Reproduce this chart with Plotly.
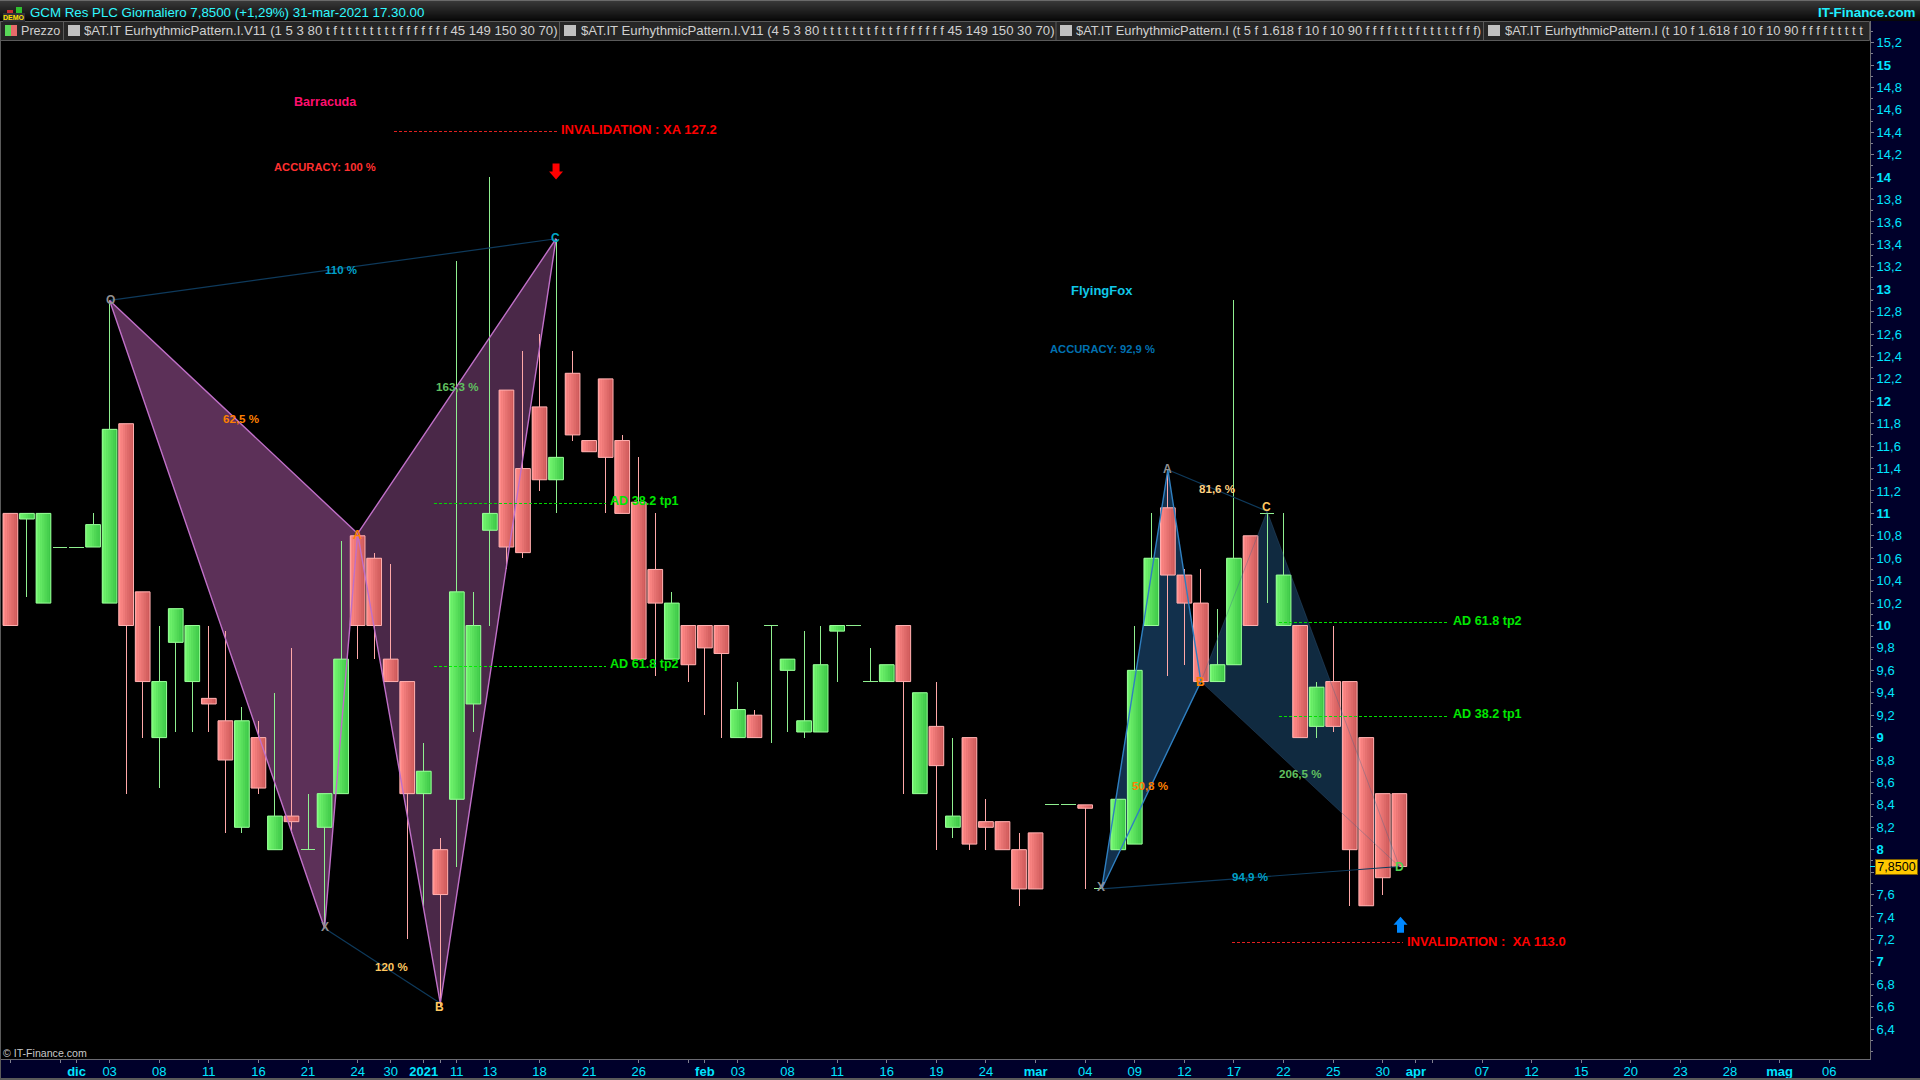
import plotly.graph_objects as go

# ---------- data ----------
opens = [11,10.95,10.2,10.7,10.7,10.7,10.2,11.8,10.3,9,9.85,9.5,9.35,9.15,8.2,9,8,8.3,8,8.2,8.5,10.8,10.6,9.7,9.5,8.5,8,8.45,9.3,10.85,
         12.1,11.4,11.95,11.3,12.25,11.65,12.2,11.65,11.1,10.5,9.7,10,10,10,9,9.2,10,9.6,9.05,9.05,9.95,10,9.5,9.5,10,8.5,9.1,8.2,9,8.25,
         8.25,8,8.15,8.4,8.4,8.4,7.65,8,8.05,10,11.05,10.45,10.2,9.5,9.65,10.8,11,10,10,9.1,9.5,9.5,9,8.5,8.5]
highs = [11,11,11,10.7,10.7,11,12.9,11.8,10.3,10,10.15,10,10,9.95,9.27,9.15,9.4,9.8,8.5,8.5,10.75,10.8,10.65,10.55,9.5,8.95,8.1,13.25,10.3,14,
         12.1,12.45,12.6,13.45,12.45,11.65,12.2,11.7,11.5,11,10.3,10,10,10,9.5,9.25,10,9.7,9.95,10,10,10,9.8,9.65,10,9.4,9.5,9,9,8.45,
         8.25,8.15,8.15,8.4,8.4,8.4,7.65,8.45,10,11,11.4,10.5,10.5,10.15,12.9,10.8,11,11,10,9.5,10,9.5,9,8.5,8.5]
lows = [10,10.25,10.2,10.7,10.7,10.7,10.2,8.5,9,8.55,9.05,9.05,9.05,8.15,8.15,8.5,8,8.15,8,7.3,8.5,9.7,9.7,9.5,7.2,7.5,6.6,7.85,9.05,10,
        10.5,10.6,11.2,11,11.65,11.55,11,11,9.7,9.55,9.7,9.5,9.2,9,9,9,8.95,9.05,9,9.05,9.5,10,9.5,9.5,8.5,8.5,8,8.1,8,8,
        8,7.5,7.65,8.4,8.4,7.65,7.65,8,8.05,10,9.55,9.65,9.5,9.5,9.65,10,10.2,10,9,9,9.05,7.5,7.5,7.6,7.85]
closes = [10,11,11,10.7,10.7,10.9,11.75,10,9.5,9.5,10.15,10,9.3,8.8,9.15,8.55,8.3,8.25,8,8.5,9.7,10,10,9.5,8.5,8.7,7.6,10.3,10,11,
          10.7,10.65,11.3,11.5,11.7,11.55,11.5,11,9.7,10.2,10.2,9.65,9.8,9.75,9.25,9,10,9.7,9.15,9.65,10,10,9.5,9.65,9.5,9.4,8.75,8.3,8.05,8.2,
          8,7.65,7.65,8.4,8.4,8.37,7.65,8.45,9.6,10.6,10.45,10.2,9.5,9.65,10.6,10,11,10.45,9,9.45,9.1,8,7.5,7.75,7.85]

x_tick_pos = [0,3,4,6,9,12,15,18,21,23,25,26,27,29,32,35,38,41,42,44,47,50,53,56,59,62,65,68,71,74,77,80,83,85,86,89,92,95,98,101,104,107,110]
x_tick_txt = ["","","<b>dic</b>","03","08","11","16","21","24","30","<b>2021</b>","","11","13","18","21","26","","<b>feb</b>","03","08","11","16","19","24","<b>mar</b>","04","09","12","17","22","25","30","<b>apr</b>","","07","12","15","20","23","28","<b>mag</b>","06"]
y_ticks = [15.2,15,14.8,14.6,14.4,14.2,14,13.8,13.6,13.4,13.2,13,12.8,12.6,12.4,12.2,12,11.8,11.6,11.4,11.2,11,10.8,10.6,10.4,10.2,10,9.8,9.6,9.4,9.2,9,8.8,8.6,8.4,8.2,8,7.8,7.6,7.4,7.2,7,6.8,6.6,6.4]
y_minor = [15.3,15.1,14.9,14.7,14.5,14.3,14.1,13.9,13.7,13.5,13.3,13.1,12.9,12.7,12.5,12.3,12.1,11.9,11.7,11.5,11.3,11.1,10.9,10.7,10.5,10.3,10.1,9.9,9.7,9.5,9.3,9.1,8.9,8.7,8.5,8.3,8.1,7.9,7.7,7.5,7.3,7.1,6.9,6.7,6.5,6.3,6.2]

barracuda_x = {"O":6,"X":19,"A":21,"B":26,"C":33}
barracuda_y = {"O":12.9,"X":7.3,"A":10.82,"B":6.63,"C":13.45}
fox_x = {"X":66,"A":70,"B":72,"C":76,"D":84}
fox_y = {"X":7.65,"A":11.39,"B":9.5,"C":11.02,"D":7.85}

# horizontal level lines: (x0, x1, price, colour)
levels = [(23.2,33.1,14.41,"#e02020"),(25.6,36,11.09,"#00d800"),(25.6,36,9.636,"#00f000"),
          (76.7,87,10.03,"#00e000"),(76.7,87,9.19,"#00e000"),(73.9,84.2,7.168,"#e02020")]

# ---------- geometry of the picture ----------
X0, DX = 10.4, 16.535
P_W, P_T, P_B = 1870, 21, 1059
def xd(px): return (px - X0) / DX
def yd(py): return 15 - (py - 65) / 112.1
def xp(px): return px / P_W
def yp(py): return (P_B - py) / (P_B - P_T)

n = len(opens)
idx = list(range(n))
FONT = "Liberation Sans"
fig = go.Figure()

body = [i for i in idx if opens[i] != closes[i]]
base = [min(opens[i], closes[i]) for i in body]
hgt = [abs(opens[i]-closes[i]) for i in body]
up = [closes[i] >= opens[i] for i in body]

W = 0.89
STRIPS = 7
def lerp(a, b, t):
    return "rgb(%d,%d,%d)" % tuple(round(a[k]+(b[k]-a[k])*t) for k in range(3))
G_L, G_R = (116,246,112), (62,200,72)
R_L, R_R = (255,138,136), (206,90,90)
fig.add_trace(go.Bar(x=body, y=hgt, base=base, width=W, offset=-W/2,
                     marker=dict(color=[lerp(G_L,G_R,.5) if u else lerp(R_L,R_R,.5) for u in up], line=dict(width=0)), hoverinfo="skip"))
for k in range(STRIPS):
    t = k/(STRIPS-1)
    fig.add_trace(go.Bar(x=body, y=hgt, base=base, width=W/STRIPS, offset=-W/2+k*W/STRIPS,
                         marker=dict(color=[lerp(G_L,G_R,t) if u else lerp(R_L,R_R,t) for u in up], line=dict(width=0)), hoverinfo="skip"))
fig.add_trace(go.Bar(x=body, y=hgt, base=base, width=W, offset=-W/2,
                     marker=dict(color="rgba(0,0,0,0)", line=dict(width=1, color=["#98ff98" if u else "#ffb0b0" for u in up])), hoverinfo="skip"))

# wicks
def wick_series(is_up):
    xs, ys = [], []
    for i in idx:
        if (closes[i] >= opens[i]) != is_up:
            continue
        top, bot = max(opens[i], closes[i]), min(opens[i], closes[i])
        if highs[i] > top:
            xs += [i, i, None]; ys += [top, highs[i], None]
        if lows[i] < bot:
            xs += [i, i, None]; ys += [bot, lows[i], None]
        if opens[i] == closes[i]:
            xs += [i-W/2, i+W/2, None]; ys += [opens[i], opens[i], None]
    return xs, ys
for is_up, col in ((True, "#90f090"), (False, "#ffa8a8")):
    xs, ys = wick_series(is_up)
    fig.add_trace(go.Scatter(x=xs, y=ys, mode="lines", line=dict(color=col, width=1), hoverinfo="skip"))

# pattern edges
def edge(pts, px, py, col, w):
    fig.add_trace(go.Scatter(x=[px[p] for p in pts], y=[py[p] for p in pts], mode="lines",
                             line=dict(color=col, width=w), hoverinfo="skip"))
edge(["O","C"], barracuda_x, barracuda_y, "#0e3a5c", 1.2)
edge(["X","B"], barracuda_x, barracuda_y, "#0e3a5c", 1.2)
edge(["A","C"], fox_x, fox_y, "#0e3a5c", 1.2)
edge(["X","D"], fox_x, fox_y, "#0e3a5c", 1.2)
edge(["O","X","A","O"], barracuda_x, barracuda_y, "#c070c8", 1.4)
edge(["A","B","C","A"], barracuda_x, barracuda_y, "#c070c8", 1.4)
edge(["X","A","B","X"], fox_x, fox_y, "#2f7fc0", 1.4)
edge(["B","C","D","B"], fox_x, fox_y, "rgba(60,100,140,0.35)", 1)

for x0, x1, p, col in levels:
    fig.add_trace(go.Scatter(x=[x0, x1], y=[p, p], mode="lines",
                             line=dict(color=col, width=1, dash="3px,2px"), hoverinfo="skip"))

# ---------- shapes ----------
shapes = []
def tri(pts, px, py, fill):
    path = "M " + " L ".join(f"{px[p]} {py[p]}" for p in pts) + " Z"
    shapes.append(dict(type="path", path=path, fillcolor=fill, line=dict(width=0), layer="below"))
tri(["O","X","A"], barracuda_x, barracuda_y, "#5c3058")
tri(["A","B","C"], barracuda_x, barracuda_y, "#4a2848")
tri(["X","A","B"], fox_x, fox_y, "#12304c")
tri(["B","C","D"], fox_x, fox_y, "#102a40")

def paper_rect(x0, y0, x1, y1, fill, line=None):
    shapes.append(dict(type="rect", xref="paper", yref="paper", x0=xp(x0), x1=xp(x1), y0=yp(y1), y1=yp(y0),
                       fillcolor=fill, line=dict(width=1 if line else 0, color=line or fill), layer="above"))

# title bar gradient
for r in range(21):
    v = round(58 - 50*min(r, 20)/20)
    paper_rect(0, r, 1920, r+1, f"rgb({v},{v},{v})")
paper_rect(0, 0, 1920, 1, "#6a6a6a")
# legend bar
paper_rect(0, 21.5, 1869.5, 40.5, "#262626", "#5a5a5a")
for sx in (63, 559, 1055.5, 1483):
    paper_rect(sx, 22, sx+1, 40, "#5a5a5a")
paper_rect(5, 25, 11, 36, "#58d858")
paper_rect(11, 25, 17, 36, "#e86a6a")
for sx in (68, 564, 1060, 1488):
    paper_rect(sx, 25, sx+12, 36, "#c0c0c0")
# left and bottom chrome
paper_rect(0, 21, 1, 1079, "#5a5a5a")
paper_rect(0, 1078, 1920, 1080, "#5a5a5a")
# DEMO icon
paper_rect(3, 13, 25, 22, "#303038")
paper_rect(16, 7, 22, 13, "#30c030")
paper_rect(7, 10, 13, 13, "#c83030")
# last-price tick
paper_rect(1870, 866, 1876, 867, "#00e5ff")

def arrow(x, y, col):
    shapes.append(dict(type="path", xref="x", yref="y", xsizemode="pixel", ysizemode="pixel", xanchor=x, yanchor=y,
                       path="M -3.5 8 L 3.5 8 L 3.5 0 L 7 0 L 0 -8 L -7 0 L -3.5 0 Z" if col == "#ff0000"
                       else "M -3.5 -8 L 3.5 -8 L 3.5 0 L 7 0 L 0 8 L -7 0 L -3.5 0 Z",
                       fillcolor=col, line=dict(width=0)))
arrow(33, 14.05, "#ff0000")
arrow(84.07, 7.33, "#0088ff")

# ---------- text ----------
ann = []
def text(x, y, s, col, size=12, anchor="center", bold=True, **kw):
    ann.append(dict(x=xp(x), y=yp(y), xref="paper", yref="paper", text=f"<b>{s}</b>" if bold else s,
                    showarrow=False, xanchor=anchor, yanchor="middle", borderpad=0,
                    font=dict(family=FONT, size=size, color=col), **kw))

text(29, 12, "GCM Res PLC Giornaliero 7,8500 (+1,29%) 31-mar-2021 17.30.00", "#30f8ff", 13.3, "left", False)
text(1917, 12.5, "IT-Finance.com", "#20f0ff", 13.4, "right")
text(14, 17.5, "DEMO", "#ffe000", 7, "center")
text(20, 30.5, "Prezzo", "#d0d0d0", 12.6, "left", False)
text(83, 30.5, "$AT.IT EurhythmicPattern.I.V11 (1 5 3 80 t f t t t t t t t t f f f f f f f 45 149 150 30 70)", "#d0d0d0", 13.2, "left", False)
text(579.6, 30.5, "$AT.IT EurhythmicPattern.I.V11 (4 5 3 80 t t t t t t t f t t f f f f f f f 45 149 150 30 70)", "#d0d0d0", 13.2, "left", False)
text(1075, 30.5, "$AT.IT EurhythmicPattern.I (t 5 f 1.618 f 10 f 10 90 f f f f t t t f t t t t t f f f)", "#d0d0d0", 12.9, "left", False)
text(1503.7, 30.5, "$AT.IT EurhythmicPattern.I (t 10 f 1.618 f 10 f 10 90 f f f f t t t t t", "#d0d0d0", 12.9, "left", False)
text(2.4, 1053, "© IT-Finance.com", "#c8c8c8", 10.6, "left", False)

text(325, 102, "Barracuda", "#ff0f6e", 12.6)
text(324.5, 167, "ACCURACY: 100 %", "#ff3030", 11.2)
text(560, 129.5, "INVALIDATION : XA 127.2", "#ff0000", 13, "left")
text(341, 269.5, "110 %", "#00a0c8", 11.5)
text(110, 300, "O", "#909090", 12)
text(555, 237.7, "C", "#00a8c8", 12)
text(357.3, 535, "A", "#ff8000", 12)
text(324.5, 927, "X", "#909090", 12)
text(439, 1006.7, "B", "#ffc860", 12)
text(241.3, 418, "62,5 %", "#ff8000", 11.6)
text(457, 386.7, "163,3 %", "#60c060", 11.6)
text(391, 966.7, "120 %", "#ffc860", 11.5)
text(609, 501, "AD 38.2 tp1", "#00e800", 12.6, "left")
text(609, 664, "AD 61.8 tp2", "#00e800", 12.6, "left")
text(1102.4, 290.7, "FlyingFox", "#10c8e8", 13)
text(1102, 349.3, "ACCURACY: 92,9 %", "#0070b0", 11.2)
text(1217, 488.7, "81,6 %", "#ffd080", 11.6)
text(1167.7, 469, "A", "#909090", 12)
text(1266, 507, "C", "#ffc860", 12)
text(1200, 681.7, "B", "#ff8000", 12)
text(1300, 773.7, "206,5 %", "#60c060", 11.6)
text(1150, 785, "50,8 %", "#ff8000", 11.6)
text(1101, 887, "X", "#909090", 12)
text(1250, 876.7, "94,9 %", "#00a0c8", 11.6)
text(1399, 866.7, "D", "#50d050", 12)
text(1452, 621, "AD 61.8 tp2", "#00e800", 12.6, "left")
text(1452, 714, "AD 38.2 tp1", "#00e800", 12.6, "left")
text(1406, 941, "INVALIDATION :&nbsp; XA 113.0", "#ff0000", 13, "left")
ann.append(dict(x=xp(1896.5), y=yp(866.5), xref="paper", yref="paper", text="7,8500", showarrow=False,
                xanchor="center", yanchor="middle", width=41, height=14, borderpad=0, bgcolor="#ffc800",
                bordercolor="#806000", borderwidth=1, font=dict(family=FONT, size=12.5, color="#000000")))

def ylab(v):
    if abs(v-7.8) < 1e-6:
        return ""
    if abs(v-round(v)) < 1e-6:
        return f"<b>{int(round(v))}</b>"
    return f"{v:.1f}".replace(".", ",")

fig.update_layout(
    width=1920, height=1080, margin=dict(l=0, r=50, t=P_T, b=1080-P_B, autoexpand=False),
    paper_bgcolor="#00002a", plot_bgcolor="#000000", showlegend=False, barmode="overlay",
    shapes=shapes, annotations=ann, hovermode=False,
    xaxis=dict(range=[xd(0), xd(P_W)], tickmode="array", tickvals=x_tick_pos, ticktext=x_tick_txt,
               ticks="outside", ticklen=3, tickcolor="#808090", showgrid=False, zeroline=False,
               showline=True, linecolor="#6a6a70", linewidth=1, ticklabelstandoff=-3,
               tickangle=0, tickfont=dict(family=FONT, size=13, color="#00e5ff")),
    yaxis=dict(range=[yd(P_B), yd(P_T)], side="right", tickmode="array", tickvals=y_ticks,
               ticktext=[ylab(v) for v in y_ticks], ticks="outside", ticklen=3, tickcolor="#808090",
               showgrid=False, zeroline=False, showline=True, linecolor="#6a6a70", linewidth=1,
               tickfont=dict(family=FONT, size=13, color="#00e5ff"),
               minor=dict(tickmode="array", tickvals=y_minor, ticks="outside", ticklen=2, tickcolor="#808090", showgrid=False)),
)

crisp_js = """
document.body.style.margin='0';document.documentElement.style.overflow='hidden';
var tr=document.querySelectorAll('.scatterlayer .trace');
tr.forEach(function(t,i){ if(i<2||i>=tr.length-6){ t.querySelectorAll('.js-line').forEach(function(l){l.style.shapeRendering='crispEdges';}); } });
"""
fig.write_html("out.html", config={"displayModeBar": False}, post_script=crisp_js)
